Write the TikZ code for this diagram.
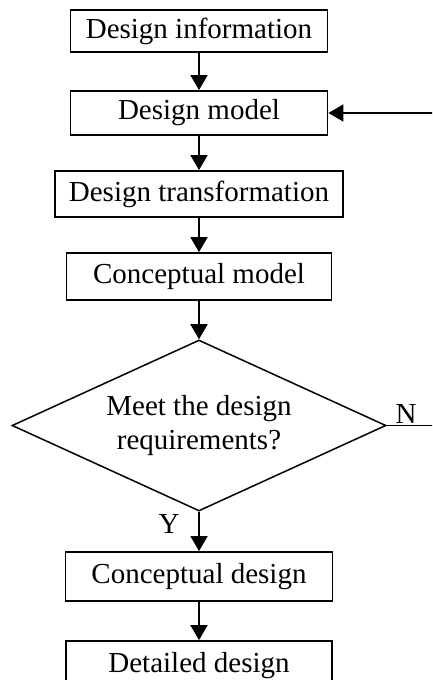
\documentclass[tikz,border=0pt]{standalone}
\usepackage{fontspec}
\setmainfont{Liberation Serif}
\usetikzlibrary{arrows.meta,shapes.geometric}
\begin{document}
\begin{tikzpicture}[x=1pt,y=-1pt,
  every node/.style={font=\fontsize{29}{33}\selectfont},
  box/.style={draw,line width=1.8pt,inner sep=0pt,align=center},
  decision/.style={draw,diamond,line width=1.5pt,inner sep=0pt,align=center,minimum width=374pt,minimum height=171pt,aspect=2.19,font=\fontsize{29}{34}\selectfont},
  arr/.style={line width=1.8pt,-{Triangle[width=17pt,length=15pt]}},
  ln/.style={line width=1.8pt},
  lbl/.style={inner sep=0pt}]
\useasboundingbox (0,0) rectangle (432,680);
\clip (0,0) rectangle (432,680);
\node[box,minimum width=257pt,minimum height=42pt] (info) at (199,31) {Design information};
\node[box,minimum width=257pt,minimum height=44pt] (model) at (199,113) {Design model};
\node[box,minimum width=288pt,minimum height=46pt] (trans) at (199,194) {Design transformation};
\node[box,minimum width=265pt,minimum height=47pt] (cmodel) at (199,276.5) {Conceptual model};
\node[decision] (dec) at (199,425.5) {Meet the design\\requirements?};
\node[box,minimum width=267pt,minimum height=49pt] (cdesign) at (199,576.5) {Conceptual design};
\node[box,minimum width=266pt,minimum height=50pt] (ddesign) at (199,666) {Detailed design};
\coordinate (c1) at (442,425.5);
\coordinate (c2) at (442,113);
\node[lbl] (nl) at (406,414) {N};
\node[lbl] (yl) at (169,524) {Y};
\draw[arr] (info) -- (model);
\draw[arr] (model) -- (trans);
\draw[arr] (trans) -- (cmodel);
\draw[arr] (cmodel) -- (dec);
\draw[arr] (dec) -- (cdesign);
\draw[arr] (cdesign) -- (ddesign);
\draw[arr] (dec.east) -- (c1) -- (c2) -- (model.east);
\end{tikzpicture}
\end{document}
